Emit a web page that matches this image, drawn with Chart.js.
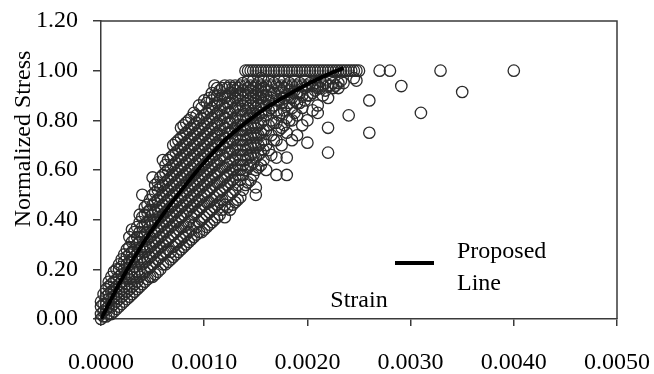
<!DOCTYPE html>
<html>
<head>
<meta charset="utf-8">
<script src="https://cdn.jsdelivr.net/npm/chart.js@4/dist/chart.umd.min.js"></script>
<style>
  html, body { margin: 0; padding: 0; background: #fff; }
  #wrap { width: 654px; height: 374px; }
</style>
</head>
<body>
<div id="wrap"><canvas id="chart"></canvas></div>
<script>
// test points, grouped by strain column
const strainCols = [
  0.00000, 0.00005, 0.00010, 0.00015, 0.00020, 0.00025, 0.00030, 0.00035, 0.00040, 0.00045,
  0.00050, 0.00055, 0.00060, 0.00065, 0.00070, 0.00075, 0.00080, 0.00085, 0.00090, 0.00095,
  0.00100, 0.00105, 0.00110, 0.00115, 0.00120, 0.00125, 0.00130, 0.00135, 0.00140, 0.00145,
  0.00150, 0.00155, 0.00160, 0.00165, 0.00170, 0.00175, 0.00180, 0.00185, 0.00190, 0.00195,
  0.00200, 0.00205, 0.00210, 0.00215, 0.00220, 0.00225, 0.00230, 0.00235, 0.00240, 0.00245,
  0.00250
];
const stressCols = [
  [0.00, 0.02, 0.05, 0.07],
  [0.01, 0.04, 0.06, 0.09, 0.12],
  [0.02, 0.05, 0.08, 0.11, 0.14, 0.17],
  [0.04, 0.07, 0.10, 0.13, 0.16, 0.20],
  [0.06, 0.09, 0.12, 0.15, 0.18, 0.21, 0.24],
  [0.08, 0.11, 0.14, 0.18, 0.22, 0.25, 0.28],
  [0.10, 0.13, 0.17, 0.20, 0.24, 0.27, 0.31, 0.36],
  [0.12, 0.15, 0.19, 0.23, 0.26, 0.30, 0.33, 0.37],
  [0.14, 0.18, 0.22, 0.25, 0.29, 0.33, 0.37, 0.41, 0.50],
  [0.16, 0.20, 0.24, 0.28, 0.32, 0.35, 0.39, 0.43, 0.46],
  [0.17, 0.22, 0.26, 0.30, 0.34, 0.38, 0.42, 0.46, 0.50, 0.57],
  [0.19, 0.24, 0.28, 0.32, 0.36, 0.40, 0.44, 0.48, 0.52, 0.55],
  [0.22, 0.26, 0.30, 0.34, 0.38, 0.42, 0.46, 0.50, 0.54, 0.58, 0.64],
  [0.23, 0.28, 0.32, 0.36, 0.40, 0.44, 0.48, 0.52, 0.56, 0.60, 0.64],
  [0.25, 0.29, 0.34, 0.38, 0.42, 0.46, 0.50, 0.54, 0.58, 0.62, 0.66, 0.70],
  [0.27, 0.31, 0.36, 0.40, 0.44, 0.48, 0.52, 0.56, 0.60, 0.64, 0.68, 0.72],
  [0.29, 0.33, 0.37, 0.42, 0.46, 0.50, 0.54, 0.58, 0.62, 0.66, 0.70, 0.74, 0.78],
  [0.31, 0.35, 0.39, 0.44, 0.48, 0.52, 0.56, 0.60, 0.64, 0.68, 0.72, 0.76, 0.80],
  [0.33, 0.38, 0.42, 0.46, 0.50, 0.54, 0.58, 0.62, 0.66, 0.70, 0.74, 0.78, 0.83],
  [0.35, 0.39, 0.44, 0.48, 0.52, 0.56, 0.60, 0.64, 0.68, 0.72, 0.76, 0.80, 0.86],
  [0.36, 0.41, 0.46, 0.50, 0.54, 0.58, 0.62, 0.66, 0.70, 0.74, 0.78, 0.82, 0.88],
  [0.38, 0.43, 0.47, 0.52, 0.56, 0.60, 0.64, 0.68, 0.72, 0.76, 0.80, 0.84, 0.89],
  [0.40, 0.45, 0.49, 0.54, 0.58, 0.62, 0.66, 0.70, 0.74, 0.78, 0.82, 0.86, 0.90, 0.94],
  [0.42, 0.47, 0.51, 0.55, 0.60, 0.64, 0.68, 0.72, 0.76, 0.80, 0.84, 0.88, 0.92],
  [0.41, 0.46, 0.53, 0.57, 0.61, 0.65, 0.69, 0.73, 0.77, 0.81, 0.85, 0.89, 0.94],
  [0.44, 0.50, 0.55, 0.59, 0.63, 0.67, 0.71, 0.75, 0.79, 0.83, 0.87, 0.91, 0.94],
  [0.47, 0.52, 0.57, 0.61, 0.65, 0.69, 0.73, 0.77, 0.81, 0.85, 0.89, 0.92, 0.94],
  [0.49, 0.56, 0.60, 0.64, 0.68, 0.72, 0.76, 0.80, 0.84, 0.88, 0.91, 0.94],
  [0.54, 0.60, 0.64, 0.68, 0.72, 0.76, 0.80, 0.84, 0.87, 0.90, 0.94, 1.00],
  [0.56, 0.62, 0.66, 0.70, 0.74, 0.78, 0.82, 0.86, 0.89, 0.92, 0.94, 1.00],
  [0.50, 0.53, 0.60, 0.65, 0.69, 0.73, 0.77, 0.81, 0.85, 0.88, 0.91, 0.94, 1.00],
  [0.62, 0.67, 0.71, 0.75, 0.79, 0.83, 0.86, 0.89, 0.92, 0.94, 0.97, 1.00],
  [0.60, 0.70, 0.76, 0.82, 0.86, 0.90, 0.94, 1.00],
  [0.66, 0.74, 0.80, 0.85, 0.89, 0.94, 1.00],
  [0.58, 0.65, 0.72, 0.79, 0.84, 0.88, 0.94, 1.00],
  [0.70, 0.77, 0.83, 0.87, 0.91, 0.94, 1.00],
  [0.58, 0.65, 0.75, 0.81, 0.86, 0.90, 0.94, 1.00],
  [0.72, 0.80, 0.85, 0.89, 0.94, 1.00],
  [0.74, 0.82, 0.87, 0.91, 0.94, 1.00],
  [0.78, 0.85, 0.90, 0.94, 1.00],
  [0.71, 0.80, 0.90, 0.94, 1.00],
  [0.84, 0.91, 0.94, 1.00],
  [0.83, 0.86, 0.93, 0.94, 1.00],
  [0.90, 0.94, 1.00],
  [0.67, 0.77, 0.89, 0.94, 1.00],
  [0.93, 0.95, 1.00],
  [0.93, 0.95, 1.00],
  [0.95, 1.00],
  [0.82, 1.00],
  [0.97, 1.00],
  [1.00]
];
// second set of columns, between the first ones
const strainColsB = [
  0.000025, 0.000075, 0.000125, 0.000175, 0.000225, 0.000275, 0.000325, 0.000375, 0.000425, 0.000475,
  0.000525, 0.000575, 0.000625, 0.000675, 0.000725, 0.000775, 0.000825, 0.000875, 0.000925, 0.000975,
  0.001025, 0.001075, 0.001125, 0.001175, 0.001225, 0.001275, 0.001325, 0.001375, 0.001425, 0.001475,
  0.001525, 0.001575, 0.001625, 0.001675, 0.001725, 0.001775, 0.001825, 0.001875, 0.001925, 0.001975,
  0.002025, 0.002075, 0.002125, 0.002175, 0.002225, 0.002275, 0.002325, 0.002375, 0.002425, 0.002475
];
const stressColsB = [
  [0.01, 0.03, 0.06, 0.10],
  [0.02, 0.05, 0.08, 0.10, 0.13, 0.15],
  [0.03, 0.06, 0.09, 0.12, 0.15, 0.19],
  [0.05, 0.08, 0.11, 0.14, 0.17, 0.20, 0.22],
  [0.07, 0.10, 0.13, 0.17, 0.20, 0.23, 0.26],
  [0.09, 0.12, 0.16, 0.19, 0.23, 0.26, 0.29, 0.33],
  [0.11, 0.14, 0.18, 0.21, 0.25, 0.28, 0.32, 0.35],
  [0.13, 0.17, 0.20, 0.24, 0.28, 0.31, 0.35, 0.39, 0.42],
  [0.15, 0.19, 0.23, 0.27, 0.30, 0.34, 0.38, 0.42, 0.45],
  [0.17, 0.21, 0.25, 0.29, 0.33, 0.37, 0.40, 0.44, 0.48],
  [0.18, 0.23, 0.27, 0.31, 0.35, 0.39, 0.43, 0.47, 0.51, 0.54],
  [0.20, 0.25, 0.29, 0.33, 0.37, 0.41, 0.45, 0.49, 0.53, 0.57],
  [0.22, 0.27, 0.31, 0.35, 0.39, 0.43, 0.47, 0.51, 0.55, 0.59, 0.62],
  [0.24, 0.27, 0.33, 0.37, 0.41, 0.45, 0.49, 0.53, 0.57, 0.61, 0.65],
  [0.26, 0.30, 0.35, 0.39, 0.43, 0.47, 0.51, 0.55, 0.59, 0.63, 0.67, 0.71],
  [0.28, 0.32, 0.37, 0.41, 0.45, 0.49, 0.53, 0.57, 0.61, 0.65, 0.69, 0.73, 0.77],
  [0.30, 0.34, 0.38, 0.43, 0.47, 0.51, 0.55, 0.59, 0.63, 0.67, 0.71, 0.75, 0.79],
  [0.32, 0.36, 0.41, 0.45, 0.49, 0.53, 0.57, 0.61, 0.65, 0.69, 0.73, 0.77, 0.81],
  [0.34, 0.37, 0.43, 0.47, 0.51, 0.55, 0.59, 0.63, 0.67, 0.71, 0.75, 0.79, 0.82],
  [0.35, 0.40, 0.45, 0.49, 0.53, 0.57, 0.61, 0.65, 0.69, 0.73, 0.77, 0.81, 0.85],
  [0.37, 0.42, 0.47, 0.51, 0.55, 0.59, 0.63, 0.67, 0.71, 0.75, 0.79, 0.83, 0.87],
  [0.39, 0.44, 0.48, 0.53, 0.57, 0.61, 0.65, 0.69, 0.73, 0.77, 0.81, 0.85, 0.88, 0.91],
  [0.41, 0.46, 0.50, 0.55, 0.59, 0.63, 0.67, 0.71, 0.75, 0.79, 0.83, 0.87, 0.90, 0.93],
  [0.44, 0.48, 0.52, 0.56, 0.61, 0.66, 0.70, 0.74, 0.78, 0.82, 0.86, 0.90, 0.93],
  [0.45, 0.49, 0.54, 0.58, 0.62, 0.67, 0.71, 0.75, 0.79, 0.83, 0.87, 0.90, 0.93],
  [0.46, 0.51, 0.56, 0.60, 0.64, 0.68, 0.72, 0.76, 0.80, 0.84, 0.88, 0.91, 0.93],
  [0.48, 0.54, 0.58, 0.62, 0.66, 0.70, 0.74, 0.78, 0.82, 0.86, 0.90, 0.93],
  [0.52, 0.58, 0.62, 0.66, 0.70, 0.74, 0.78, 0.82, 0.86, 0.89, 0.92, 0.95],
  [0.55, 0.61, 0.65, 0.69, 0.73, 0.77, 0.81, 0.85, 0.88, 0.91, 0.93, 0.96, 1.00],
  [0.58, 0.63, 0.67, 0.71, 0.75, 0.79, 0.83, 0.87, 0.90, 0.93, 0.96, 1.00],
  [0.61, 0.66, 0.70, 0.74, 0.78, 0.82, 0.86, 0.89, 0.92, 0.95, 1.00],
  [0.64, 0.68, 0.72, 0.76, 0.80, 0.84, 0.87, 0.90, 0.93, 0.96, 1.00],
  [0.68, 0.78, 0.84, 0.88, 0.92, 0.96, 1.00],
  [0.72, 0.79, 0.86, 0.91, 0.95, 1.00],
  [0.76, 0.82, 0.88, 0.93, 0.96, 1.00],
  [0.78, 0.84, 0.89, 0.93, 0.96, 1.00],
  [0.80, 0.87, 0.92, 0.95, 1.00],
  [0.83, 0.88, 0.92, 0.96, 1.00],
  [0.87, 0.91, 0.95, 1.00],
  [0.88, 0.93, 0.96, 1.00],
  [0.90, 0.95, 1.00],
  [0.92, 0.95, 1.00],
  [0.93, 0.96, 1.00],
  [0.92, 0.95, 1.00],
  [0.94, 0.97, 1.00],
  [0.94, 1.00],
  [0.96, 1.00],
  [1.00],
  [1.00],
  [0.96, 1.00]
];
// scattered points right of the main cloud
const outlierStrain = [0.0026, 0.0026, 0.0027, 0.0028, 0.00291, 0.0031, 0.00329, 0.0035, 0.0040];
const outlierStress = [0.88, 0.75, 1.00, 1.00, 0.938, 0.83, 1.00, 0.914, 1.00];

// proposed curve
const curveStrain = [0, 0.0002, 0.0004, 0.0006, 0.0008, 0.0010, 0.0012, 0.0014, 0.0016, 0.0018, 0.0020, 0.0022, 0.00235];
const curveStress = [0, 0.16, 0.30, 0.42, 0.53, 0.63, 0.72, 0.79, 0.85, 0.90, 0.945, 0.985, 1.01];

const xTickValues = [0, 0.001, 0.002, 0.003, 0.004, 0.005];
const yTickValues = [0, 0.2, 0.4, 0.6, 0.8, 1.0, 1.2];

const axisColor = '#3a3a3a';
const fontFamily = '"Liberation Serif", "Times New Roman", serif';
const fontSize = 24;

let testPoints = [];
function addColumns(xs, yss) {
  xs.forEach(function (x, i) {
    yss[i].forEach(function (y) { testPoints.push({ x: x, y: y }); });
  });
}
addColumns(strainCols, stressCols);
addColumns(strainColsB, stressColsB);
outlierStrain.forEach(function (x, i) { testPoints.push({ x: x, y: outlierStress[i] }); });

const curvePoints = curveStrain.map(function (x, i) { return { x: x, y: curveStress[i] }; });

// labels may hang over the plot edges, the layout padding alone decides the plot box
function noOverhang(scale) {
  scale.paddingTop = 0;
  scale.paddingBottom = 0;
  scale.paddingLeft = 0;
  scale.paddingRight = 0;
}

// frame, axis titles and legend drawn over the chart
const decorations = {
  id: 'decorations',
  beforeDatasetsDraw(chart) {
    const a = chart.chartArea;
    const ctx = chart.ctx;
    ctx.save();
    ctx.strokeStyle = axisColor;
    ctx.lineWidth = 1.5;
    ctx.beginPath();
    ctx.moveTo(a.left, a.top);
    ctx.lineTo(a.right, a.top);
    ctx.lineTo(a.right, a.bottom);
    ctx.stroke();
    ctx.restore();
  },
  afterDraw(chart) {
    const a = chart.chartArea;
    const ctx = chart.ctx;
    ctx.save();
    ctx.fillStyle = '#000';
    ctx.font = fontSize + 'px ' + fontFamily;

    // x title sits inside the plot, just above the axis
    ctx.textAlign = 'center';
    ctx.textBaseline = 'alphabetic';
    ctx.fillText('Strain', (a.left + a.right) / 2, a.bottom - 12);

    // y title
    ctx.save();
    ctx.translate(30, 139);
    ctx.rotate(-Math.PI / 2);
    ctx.fillText('Normalized Stress', 0, 0);
    ctx.restore();

    // legend
    const lx = a.left + 294;
    const ly = a.bottom - 56;
    ctx.strokeStyle = '#000';
    ctx.lineWidth = 4;
    ctx.beginPath();
    ctx.moveTo(lx, ly);
    ctx.lineTo(lx + 39, ly);
    ctx.stroke();
    ctx.textAlign = 'left';
    ctx.fillText('Proposed', lx + 62, ly - 5);
    ctx.fillText('Line', lx + 62, ly + 27);
    ctx.restore();
  }
};

Chart.defaults.font.family = fontFamily;
Chart.defaults.font.size = fontSize;
Chart.defaults.color = '#000';

new Chart(document.getElementById('chart'), {
  type: 'scatter',
  data: {
    datasets: [
      {
        label: 'Proposed Line',
        type: 'line',
        data: curvePoints,
        borderColor: '#000',
        borderWidth: 4,
        pointRadius: 0,
        fill: false,
        cubicInterpolationMode: 'monotone',
        order: 0
      },
      {
        label: 'Test data',
        data: testPoints,
        pointStyle: 'circle',
        pointRadius: 5.7,
        pointBorderWidth: 1.3,
        borderColor: '#2b2b2b',
        backgroundColor: 'rgba(0,0,0,0)',
        clip: false,
        order: 1
      }
    ]
  },
  options: {
    responsive: true,
    maintainAspectRatio: false,
    animation: false,
    layout: { padding: { top: 21, right: 37, left: 0, bottom: 0 } },
    plugins: {
      legend: { display: false },
      tooltip: { enabled: false }
    },
    scales: {
      x: {
        type: 'linear',
        position: 'bottom',
        min: 0,
        max: 0.005,
        afterBuildTicks: function (scale) {
          scale.ticks = xTickValues.map(function (v) { return { value: v }; });
        },
        afterFit: function (scale) { scale.height = 55; noOverhang(scale); },
        grid: { display: true, drawOnChartArea: false, drawTicks: true, tickLength: 7, color: axisColor, lineWidth: 1.5 },
        border: { display: true, color: axisColor, width: 1.5 },
        ticks: {
          padding: 22,
          maxRotation: 0,
          autoSkip: false,
          callback: function (v) { return Number(v).toFixed(4); }
        }
      },
      y: {
        type: 'linear',
        min: 0,
        max: 1.2,
        afterBuildTicks: function (scale) {
          scale.ticks = yTickValues.map(function (v) { return { value: v }; });
        },
        afterFit: function (scale) { scale.width = 101; noOverhang(scale); },
        grid: { display: true, drawOnChartArea: false, drawTicks: true, tickLength: 8, color: axisColor, lineWidth: 1.5 },
        border: { display: true, color: axisColor, width: 1.5 },
        ticks: {
          padding: 15,
          callback: function (v) { return Number(v).toFixed(2); }
        }
      }
    }
  },
  plugins: [decorations]
});
</script>
</body>
</html>
